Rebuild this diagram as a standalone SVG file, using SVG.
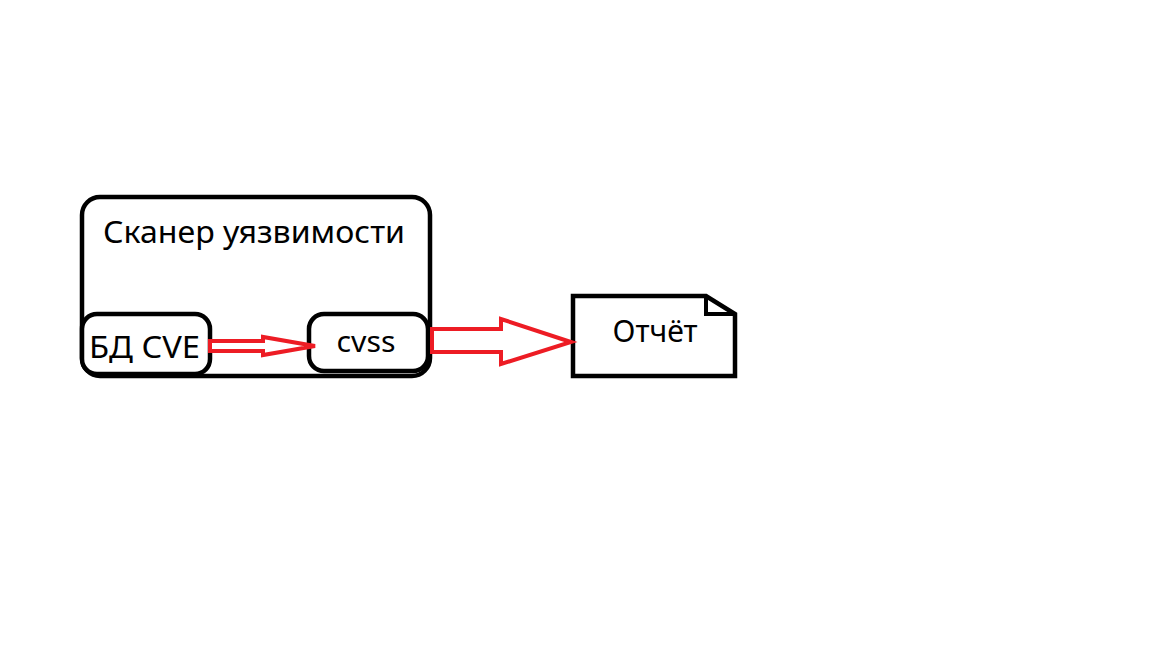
<svg xmlns="http://www.w3.org/2000/svg" width="1152" height="648" viewBox="0 0 1152 648">
<style>
.box{fill:#fff;stroke:#000;stroke-width:4.5}
.arr{fill:#fff;stroke:#ed1c24;stroke-width:4;stroke-linejoin:miter}
text{font-family:"Noto Sans","Open Sans",sans-serif;fill:#000}
</style>
<rect width="1152" height="648" fill="#fff"/>
<g id="scanner">
<rect class="box" x="82" y="197" width="348" height="179" rx="18"/>
<text x="254" y="243" font-size="30" text-anchor="middle" textLength="302" lengthAdjust="spacingAndGlyphs">Сканер уязвимости</text>
</g>
<g id="bd-cve">
<rect class="box" x="82" y="314" width="128" height="60" rx="15"/>
<text x="89" y="358" font-size="31" textLength="111" lengthAdjust="spacingAndGlyphs">БД CVE</text>
</g>
<g id="cvss">
<rect class="box" x="309" y="314" width="119" height="57" rx="15"/>
<text x="366" y="352" font-size="29" text-anchor="middle" textLength="59" lengthAdjust="spacingAndGlyphs">cvss</text>
</g>
<g id="report">
<path class="box" d="M573,296 H706 L735,314 V376 H573 Z"/>
<path fill="none" stroke="#000" stroke-width="4" d="M706,296 V314 H735"/>
<text x="655" y="342" font-size="30" text-anchor="middle" textLength="85" lengthAdjust="spacingAndGlyphs">Отчёт</text>
</g>
<g id="connectors">
<path class="arr" d="M210,341 H263 V337 L315,346 L263,355 V351 H210 Z"/>
<path class="arr" d="M432,329 H501 V319 L571,342 L501,364 V352 H432 Z"/>
</g>
</svg>
